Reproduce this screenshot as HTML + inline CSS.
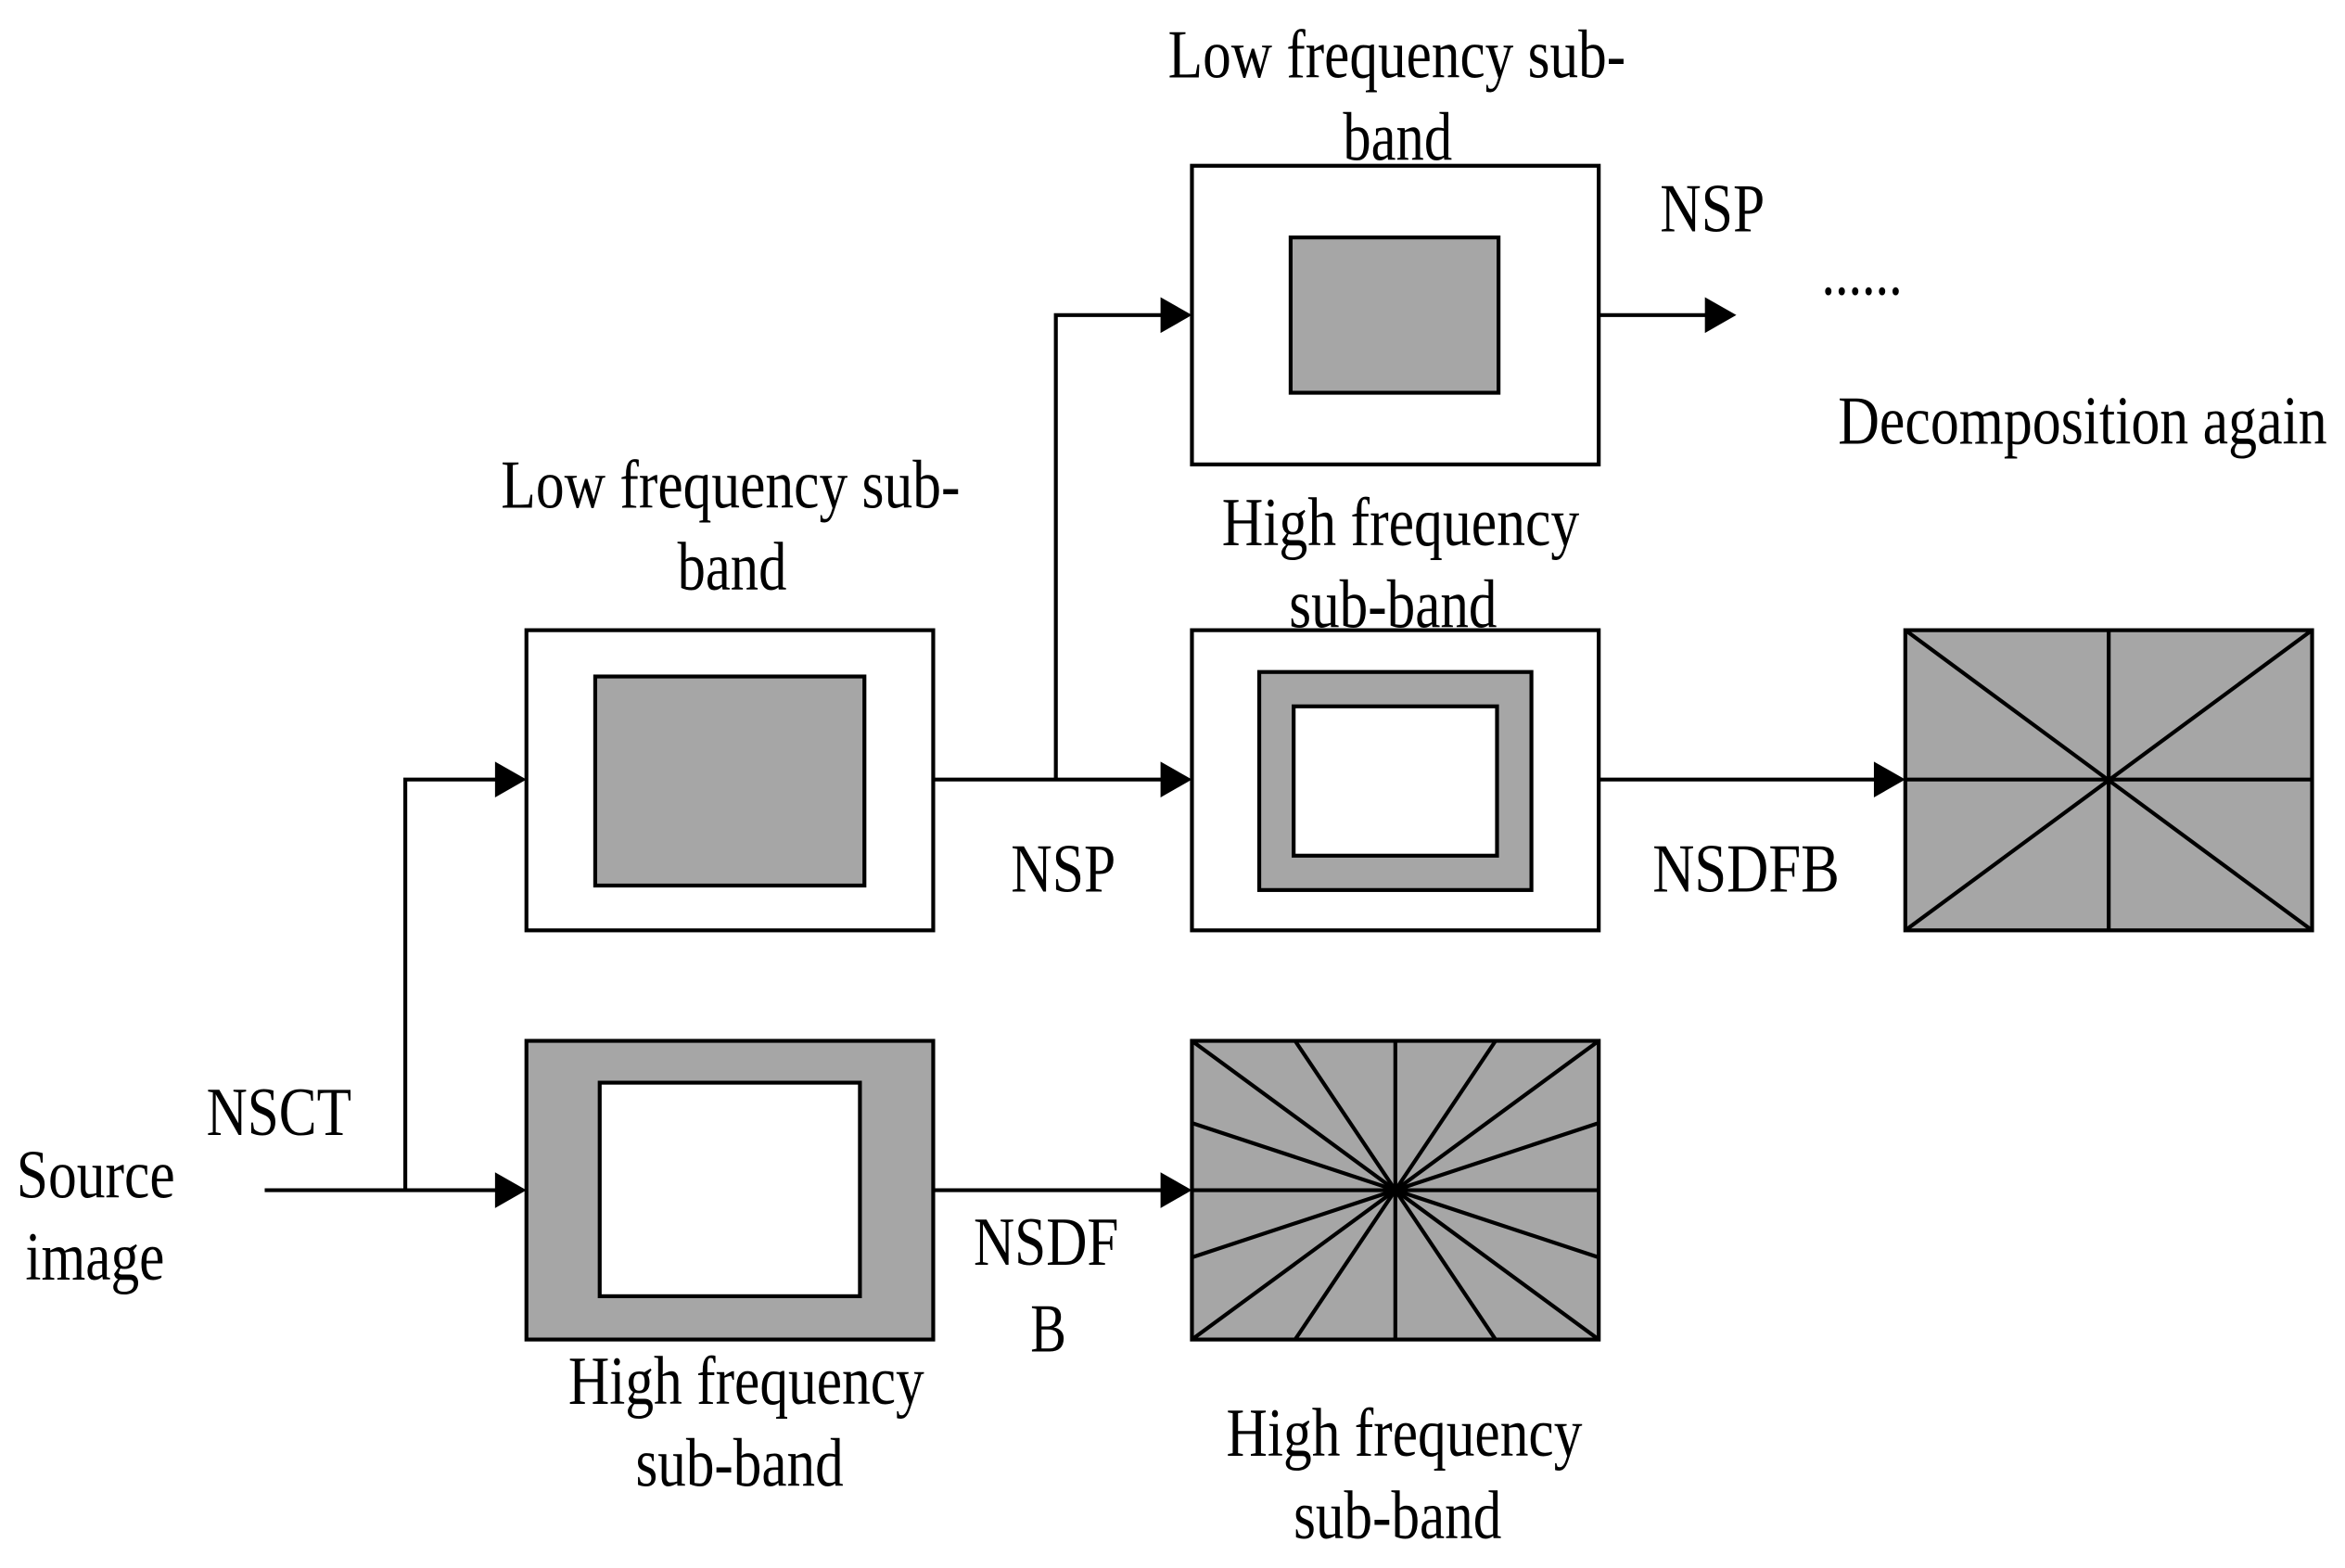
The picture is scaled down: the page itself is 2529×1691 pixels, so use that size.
<!DOCTYPE html>
<html><head><meta charset="utf-8"><style>
html,body{margin:0;padding:0;background:#fff;}
svg{display:block;}
text{font-family:"Liberation Serif",serif;font-size:46px;fill:#000;}
</style></head><body>
<svg width="2529" height="1691" viewBox="0 0 1568 1050" preserveAspectRatio="none" xmlns="http://www.w3.org/2000/svg">
<g stroke="#000" stroke-width="2.6" fill="none">
<!-- connectors -->
<polyline points="177,797 336,797"/>
<polyline points="271,797 271,522 336,522"/>
<polyline points="624,522 781,522"/>
<polyline points="706,522 706,211 781,211"/>
<polyline points="1069,211 1144,211"/>
<polyline points="1069,522 1258,522"/>
<polyline points="624,797 781,797"/>
</g>
<g fill="#000">
<polygon points="352,797 331,785 331,809"/>
<polygon points="352,522 331,510 331,534"/>
<polygon points="797,522 776,510 776,534"/>
<polygon points="797,211 776,199 776,223"/>
<polygon points="1161,211 1140,199 1140,223"/>
<polygon points="1274,522 1253,510 1253,534"/>
<polygon points="797,797 776,785 776,809"/>
</g>
<g stroke="#000" stroke-width="2.6">
<!-- Box A -->
<rect x="352" y="422" width="272" height="201" fill="#fff"/>
<rect x="398" y="453" width="180" height="140" fill="#a6a6a6"/>
<!-- Box B -->
<rect x="352" y="697" width="272" height="200" fill="#a6a6a6"/>
<rect x="401" y="725" width="174" height="143" fill="#fff"/>
<!-- Box C -->
<rect x="797" y="111" width="272" height="200" fill="#fff"/>
<rect x="863" y="159" width="139" height="104" fill="#a6a6a6"/>
<!-- Box D -->
<rect x="797" y="422" width="272" height="201" fill="#fff"/>
<rect x="842" y="450" width="182" height="146" fill="#a6a6a6"/>
<rect x="865" y="473" width="136" height="100" fill="#fff"/>
<!-- Box E -->
<rect x="1274" y="422" width="272" height="201" fill="#a6a6a6"/>
<line x1="1410" y1="422" x2="1410" y2="623"/>
<line x1="1274" y1="522" x2="1546" y2="522"/>
<line x1="1274" y1="422" x2="1546" y2="623"/>
<line x1="1274" y1="623" x2="1546" y2="422"/>
<!-- Box F -->
<rect x="797" y="697" width="272" height="200" fill="#a6a6a6"/>
<line x1="797" y1="697" x2="1069" y2="897"/>
<line x1="797" y1="897" x2="1069" y2="697"/>
<line x1="933" y1="697" x2="933" y2="897"/>
<line x1="797" y1="797" x2="1069" y2="797"/>
<line x1="866" y1="697" x2="1000" y2="897"/>
<line x1="1000" y1="697" x2="866" y2="897"/>
<line x1="797" y1="752" x2="1069" y2="842"/>
<line x1="797" y1="842" x2="1069" y2="752"/>
</g>
<g>
<text x="335" y="340" textLength="307" lengthAdjust="spacingAndGlyphs">Low frequency sub-</text>
<text x="453" y="395" textLength="73" lengthAdjust="spacingAndGlyphs">band</text>
<text x="781" y="52" textLength="306" lengthAdjust="spacingAndGlyphs">Low frequency sub-</text>
<text x="898" y="107" textLength="73" lengthAdjust="spacingAndGlyphs">band</text>
<text x="1110" y="155" textLength="70" lengthAdjust="spacingAndGlyphs">NSP</text>
<text x="1218" y="197" textLength="54" lengthAdjust="spacingAndGlyphs">......</text>
<text x="1229" y="297" textLength="327" lengthAdjust="spacingAndGlyphs">Decomposition again</text>
<text x="817" y="365" textLength="239" lengthAdjust="spacingAndGlyphs">High frequency</text>
<text x="862" y="420" textLength="139" lengthAdjust="spacingAndGlyphs">sub-band</text>
<text x="676" y="597" textLength="70" lengthAdjust="spacingAndGlyphs">NSP</text>
<text x="1105" y="597" textLength="125" lengthAdjust="spacingAndGlyphs">NSDFB</text>
<text x="138" y="760" textLength="97" lengthAdjust="spacingAndGlyphs">NSCT</text>
<text x="11" y="802" textLength="106" lengthAdjust="spacingAndGlyphs">Source</text>
<text x="17" y="857" textLength="93" lengthAdjust="spacingAndGlyphs">image</text>
<text x="651" y="847" textLength="97" lengthAdjust="spacingAndGlyphs">NSDF</text>
<text x="689" y="905" textLength="24" lengthAdjust="spacingAndGlyphs">B</text>
<text x="380" y="940" textLength="238" lengthAdjust="spacingAndGlyphs">High frequency</text>
<text x="425" y="995" textLength="139" lengthAdjust="spacingAndGlyphs">sub-band</text>
<text x="820" y="975" textLength="238" lengthAdjust="spacingAndGlyphs">High frequency</text>
<text x="865" y="1030" textLength="139" lengthAdjust="spacingAndGlyphs">sub-band</text>
</g>
</svg>
</body></html>
